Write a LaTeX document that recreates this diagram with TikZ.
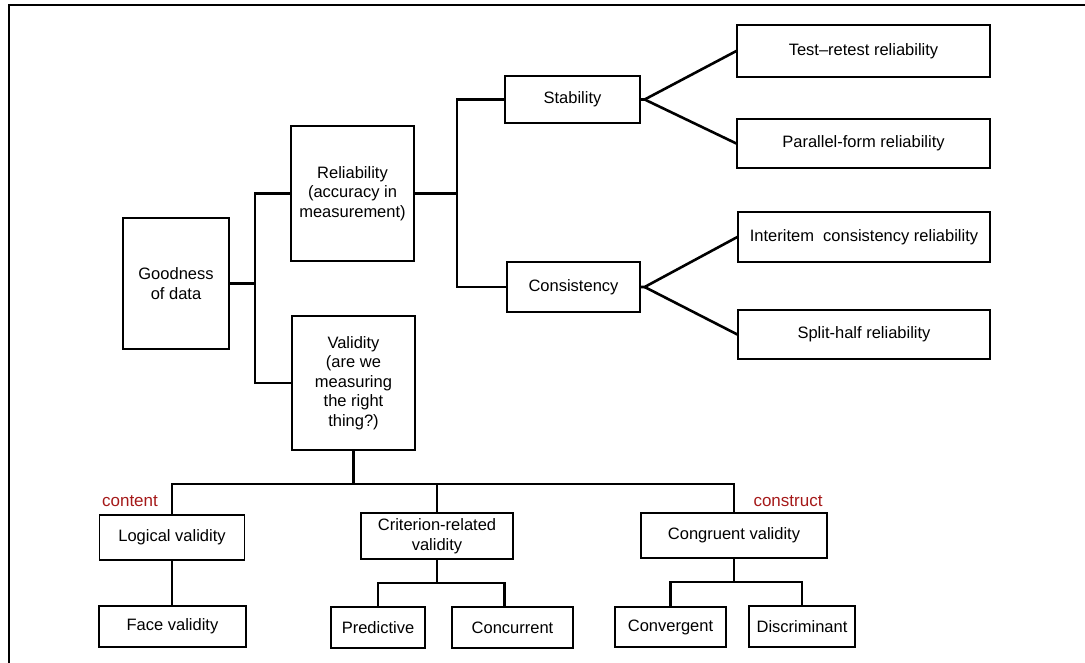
\documentclass[tikz,border=0pt]{standalone}
\usepackage{fontspec}
\setmainfont{Liberation Sans}
\usetikzlibrary{calc}
\definecolor{labelred}{RGB}{165,25,25}
\tikzset{
  box/.style={draw, line width=1.3pt, rectangle, inner sep=0pt, align=center,
    font=\fontsize{16.5}{19.5}\selectfont},
  conn/.style={line width=2.6pt},
  redlabel/.style={text=labelred, inner sep=0pt, font=\fontsize{17}{20}\selectfont}
}
\begin{document}
\begin{tikzpicture}[x=1pt,y=-1pt]
\useasboundingbox (0,0) rectangle (1085,663);
\draw[line width=1.3pt] (9,663) -- (9,5) -- (1085,5);

\node[box, minimum width=106, minimum height=131] (good) at (176,283.5) {Goodness\\of data};
\node[box, minimum width=123, minimum height=135] (rel) at (352.5,193.5) {Reliability\\(accuracy in\\measurement)};
\node[box, minimum width=123, minimum height=134] (val) at (353.5,383) {Validity\\(are we\\measuring\\the right\\thing?)};
\node[box, minimum width=135, minimum height=47] (stab) at (572.5,99.5) {Stability};
\node[box, minimum width=133, minimum height=50] (cons) at (573.5,287) {Consistency};
\node[box, minimum width=253, minimum height=52] (tr) at (863.5,51) {Test–retest reliability};
\node[box, minimum width=253, minimum height=49] (pf) at (863.5,143.5) {Parallel-form reliability};
\node[box, minimum width=252, minimum height=50] (ii) at (864,237) {Interitem\ \ consistency reliability};
\node[box, minimum width=252, minimum height=49] (sh) at (864,334.5) {Split-half reliability};
\node[box, minimum width=145, minimum height=45] (log) at (172,537.5) {Logical validity};
\node[box, minimum width=147, minimum height=41] (face) at (172.5,626.5) {Face validity};
\node[box, minimum width=152, minimum height=46] (crit) at (437,536) {Criterion-related\\validity};
\node[box, minimum width=94, minimum height=41] (pred) at (378,627.5) {Predictive};
\node[box, minimum width=121, minimum height=41] (conc) at (512.5,627.5) {Concurrent};
\node[box, minimum width=186, minimum height=45] (cong) at (734,535.5) {Congruent validity};
\node[box, minimum width=111, minimum height=40] (conv) at (670.5,627) {Convergent};
\node[box, minimum width=106, minimum height=41] (disc) at (802,626.5) {Discriminant};

\node[redlabel] (lcontent) at (130,501) {content};
\node[redlabel] (lconstruct) at (788,501) {construct};

% top tree
\coordinate (gj) at (255,283.5);
\draw[conn] (good.east) -- (gj);
\draw[conn] (rel.west) -| (gj) |- (val.west);
\coordinate (rj) at (457,193.5);
\draw[conn] (rel.east) -- (rj);
\draw[conn] (stab.west) -| (rj) |- (cons.west);
\coordinate (sa) at ($(stab.east)+(4,0)$);
\draw[conn] (stab.east) -- (sa) -- (tr.west);
\draw[conn] (sa) -- (pf.west);
\coordinate (ca) at ($(cons.east)+(4,0)$);
\draw[conn] (cons.east) -- (ca) -- (ii.west);
\draw[conn] (ca) -- (sh.west);

% bottom tree
\coordinate (vb) at (353.5,484);
\draw[conn] (val.south) -- (val.south |- vb);
\draw[conn] (log.north) |- (cong.north |- vb) -- (cong.north);
\draw[conn] (crit.north) -- (crit.north |- vb);
\draw[conn] (log.south) -- (log.south |- face.north);

\coordinate (cj) at (437,583);
\coordinate (concup) at ($(conc.north)+(-8,0)$);
\draw[conn] (crit.south) -- (crit.south |- cj);
\draw[conn] (pred.north) |- (concup |- cj) -- (concup);

\coordinate (gk) at (734,582);
\draw[conn] (cong.south) -- (cong.south |- gk);
\draw[conn] (conv.north) |- (disc.north |- gk) -- (disc.north);
\end{tikzpicture}
\end{document}
